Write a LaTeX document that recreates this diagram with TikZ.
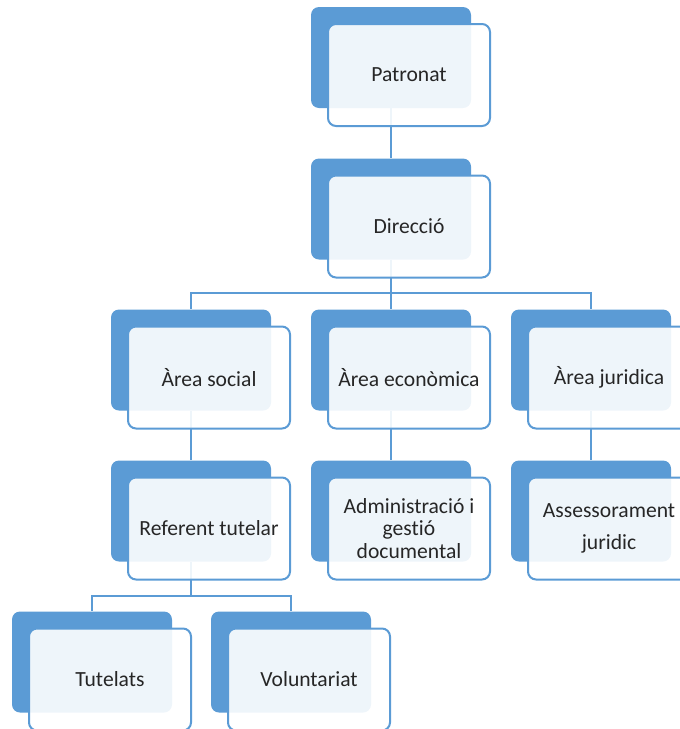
\documentclass[tikz,border=0pt]{standalone}
\usepackage{fontspec}
\setmainfont{Carlito}[Ligatures=NoCommon]
\definecolor{blau}{HTML}{5B9BD5}

\begin{document}
\begin{tikzpicture}[x=0.75pt,y=-0.75pt,
        fons/.style={fill=blau,rounded corners=6pt,inner sep=0pt,
          minimum width=120pt,minimum height=75.75pt},
        caixa/.style={draw=blau,line width=1.5pt,fill=white,fill opacity=0.9,
          text opacity=1,rounded corners=6pt,inner sep=0pt,align=center,
          minimum width=121.5pt,minimum height=76.5pt,text=black!85,
          font=\fontsize{16.2}{17}\selectfont},
        linia/.style={draw=blau,line width=1.5pt}]
        \useasboundingbox (0,0) rectangle (680,729) ;
        % caixes del fons
        \node[fons] (patronatb) at (391,57.5) {} ;
        \node[fons] (direcciob) at (391,209) {} ;
        \node[fons] (socialb) at (191,360) {} ;
        \node[fons] (economicab) at (391,360) {} ;
        \node[fons] (juridicab) at (591,360) {} ;
        \node[fons] (referentb) at (191,511) {} ;
        \node[fons] (adminb) at (391,511) {} ;
        \node[fons] (assessorb) at (591,511) {} ;
        \node[fons] (tutelatsb) at (92,662) {} ;
        \node[fons] (voluntb) at (291,662) {} ;
        % linies
        \draw[linia] (patronatb.south) -- (direcciob.north) ;
        \draw[linia] (direcciob.south) -- ++(0,33.5) -| (socialb.north) ;
        \draw[linia] (direcciob.south) -- ++(0,33.5) -| (economicab.north) ;
        \draw[linia] (direcciob.south) -- ++(0,33.5) -| (juridicab.north) ;
        \draw[linia] (socialb.south) -- (referentb.north) ;
        \draw[linia] (economicab.south) -- (adminb.north) ;
        \draw[linia] (juridicab.south) -- (assessorb.north) ;
        \draw[linia] (referentb.south) -- ++(0,34) -| (tutelatsb.north) ;
        \draw[linia] (referentb.south) -- ++(0,34) -| (voluntb.north) ;
        % caixes del davant
        \node[caixa] (patronat) at ([shift={(18,17.5)}]patronatb.center) {Patronat} ;
        \node[caixa] (direccio) at ([shift={(18,17.5)}]direcciob.center) {Direcció} ;
        \node[caixa] (social) at ([shift={(18,17.5)}]socialb.center) {Àrea social} ;
        \node[caixa] (economica) at ([shift={(18,17.5)}]economicab.center) {Àrea econòmica} ;
        \node[caixa] (juridica) at ([shift={(18,17.5)}]juridicab.center) {Àrea juridica} ;
        \node[caixa] (referent) at ([shift={(18,17.5)}]referentb.center) {Referent tutelar} ;
        \node[caixa] (admin) at ([shift={(18,17.5)}]adminb.center)
        {Administració i\\gestió\\documental} ;
        \node[caixa] (assessor) at ([shift={(18,17.5)}]assessorb.center)
        {Assessorament\\[7pt]juridic} ;
        \node[caixa] (tutelats) at ([shift={(18,17.5)}]tutelatsb.center) {Tutelats} ;
        \node[caixa] (volunt) at ([shift={(18,17.5)}]voluntb.center) {Voluntariat} ;
      \end{tikzpicture}
\end{document}
